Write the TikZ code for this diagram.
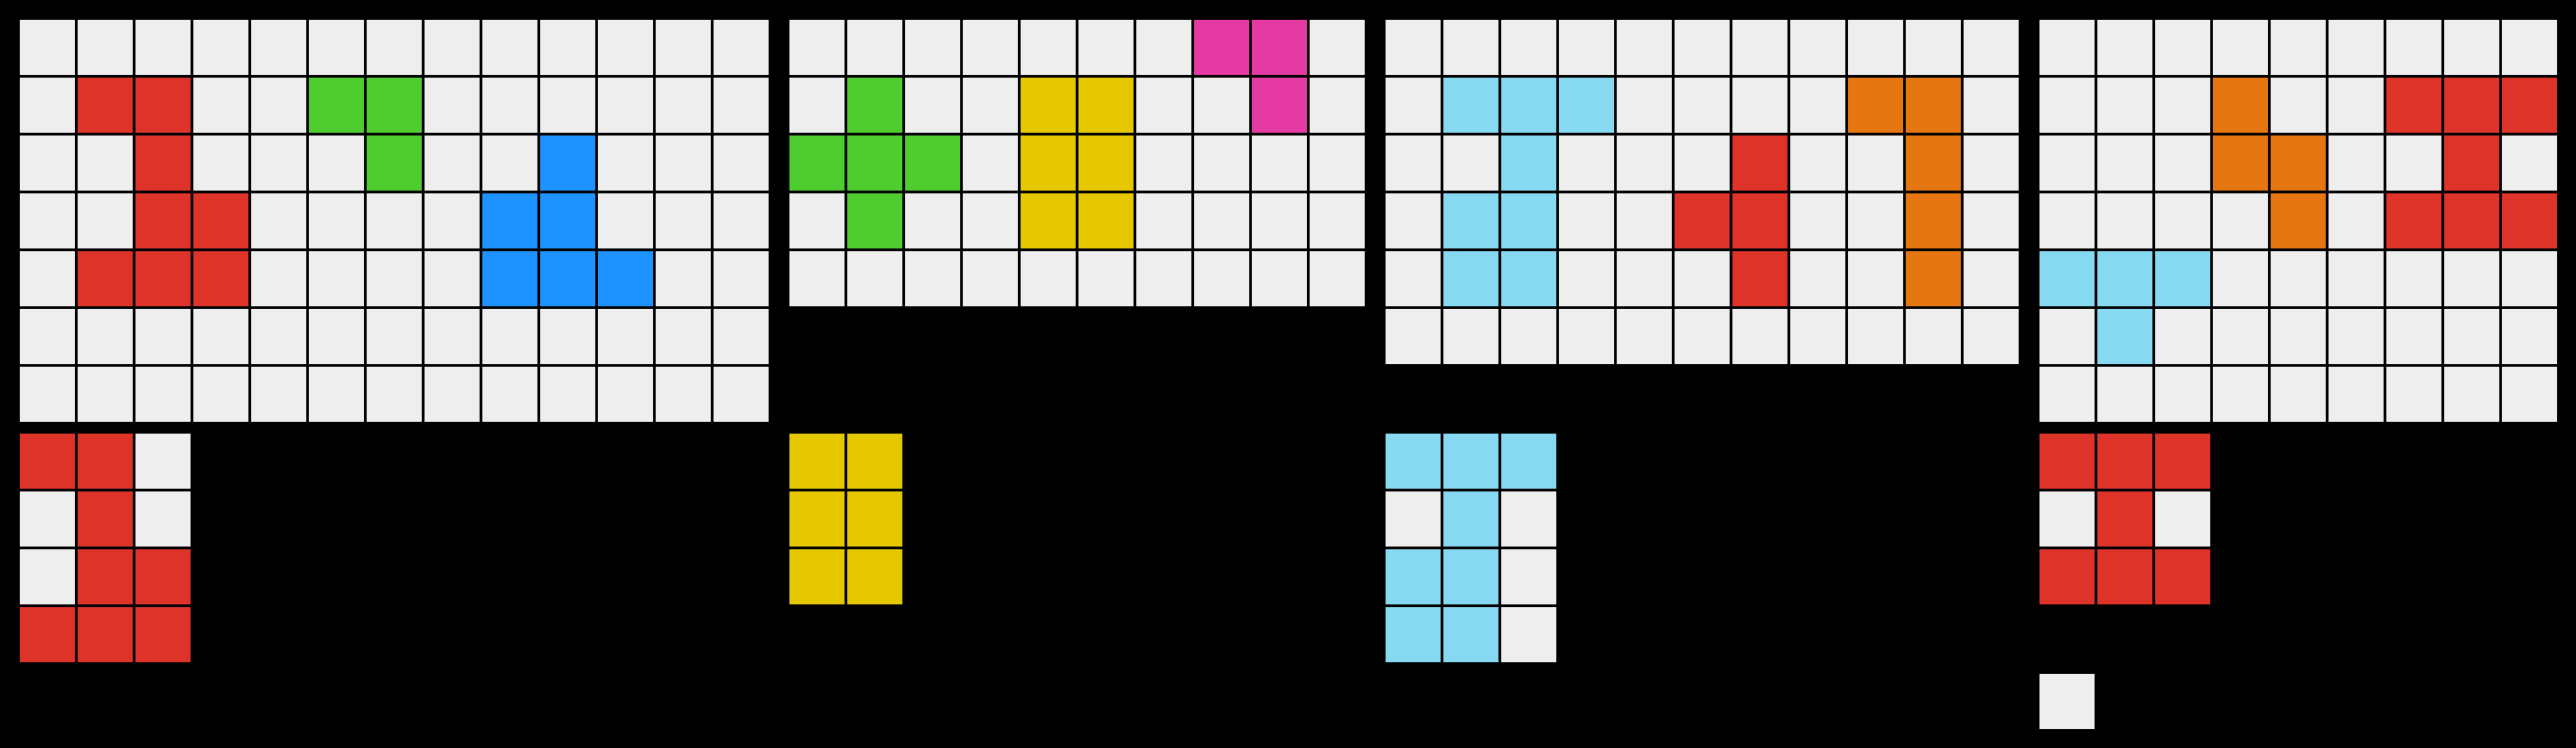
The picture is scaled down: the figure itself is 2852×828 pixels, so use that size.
\documentclass[tikz,border=0pt]{standalone}
\usetikzlibrary{positioning}
\definecolor{arcgray}{HTML}{EEEEEE}
\definecolor{arcred}{HTML}{DE3329}
\definecolor{arcgreen}{HTML}{4FCC30}
\definecolor{arcblue}{HTML}{1E93FF}
\definecolor{arcyellow}{HTML}{E6C800}
\definecolor{arcpink}{HTML}{E53AA3}
\definecolor{arccyan}{HTML}{87D8F1}
\definecolor{arcorange}{HTML}{E57612}
% grid of empty cells: origin x, origin y, columns, rows
\newcommand{\arcgrid}[4]{%
  \foreach \c in {1,...,#3}
    \foreach \r in {1,...,#4}
      \fill[arcgray] ({#1+64*(\c-1)},{#2+64*(\r-1)}) rectangle ++(61,61);}
% one coloured cell: origin x, origin y, column, row, colour
\newcommand{\arccell}[5]{\fill[#5] ({#1+64*#3},{#2+64*#4}) rectangle ++(61,61);}

\begin{document}
\begin{tikzpicture}[x=0.5pt,y=-0.5pt]
  \fill[black] (0,0) rectangle (2852,828);
  \useasboundingbox (0,0) rectangle (2852,828);

  % pair 1
  \arcgrid{22}{22}{13}{7}
  \foreach \c/\r in {1/1,2/1,2/2,2/3,3/3,1/4,2/4,3/4} {\arccell{22}{22}{\c}{\r}{arcred}}
  \foreach \c/\r in {5/1,6/1,6/2} {\arccell{22}{22}{\c}{\r}{arcgreen}}
  \foreach \c/\r in {9/2,8/3,9/3,8/4,9/4,10/4} {\arccell{22}{22}{\c}{\r}{arcblue}}
  \arcgrid{22}{480}{3}{4}
  \foreach \c/\r in {0/0,1/0,1/1,1/2,2/2,0/3,1/3,2/3} {\arccell{22}{480}{\c}{\r}{arcred}}

  % pair 2
  \arcgrid{874}{22}{10}{5}
  \foreach \c/\r in {7/0,8/0,8/1} {\arccell{874}{22}{\c}{\r}{arcpink}}
  \foreach \c/\r in {1/1,0/2,1/2,2/2,1/3} {\arccell{874}{22}{\c}{\r}{arcgreen}}
  \foreach \c/\r in {4/1,5/1,4/2,5/2,4/3,5/3} {\arccell{874}{22}{\c}{\r}{arcyellow}}
  \foreach \c/\r in {0/0,1/0,0/1,1/1,0/2,1/2} {\arccell{874}{480}{\c}{\r}{arcyellow}}

  % pair 3
  \arcgrid{1534}{22}{11}{6}
  \foreach \c/\r in {1/1,2/1,3/1,2/2,1/3,2/3,1/4,2/4} {\arccell{1534}{22}{\c}{\r}{arccyan}}
  \foreach \c/\r in {6/2,5/3,6/3,6/4} {\arccell{1534}{22}{\c}{\r}{arcred}}
  \foreach \c/\r in {8/1,9/1,9/2,9/3,9/4} {\arccell{1534}{22}{\c}{\r}{arcorange}}
  \arcgrid{1534}{480}{3}{4}
  \foreach \c/\r in {0/0,1/0,2/0,1/1,0/2,1/2,0/3,1/3} {\arccell{1534}{480}{\c}{\r}{arccyan}}

  % test
  \arcgrid{2258}{22}{9}{7}
  \foreach \c/\r in {3/1,3/2,4/2,4/3} {\arccell{2258}{22}{\c}{\r}{arcorange}}
  \foreach \c/\r in {6/1,7/1,8/1,7/2,6/3,7/3,8/3} {\arccell{2258}{22}{\c}{\r}{arcred}}
  \foreach \c/\r in {0/4,1/4,2/4,1/5} {\arccell{2258}{22}{\c}{\r}{arccyan}}
  \arcgrid{2258}{480}{3}{3}
  \foreach \c/\r in {0/0,1/0,2/0,1/1,0/2,1/2,2/2} {\arccell{2258}{480}{\c}{\r}{arcred}}
  \arcgrid{2258}{746}{1}{1}
\end{tikzpicture}
\end{document}
